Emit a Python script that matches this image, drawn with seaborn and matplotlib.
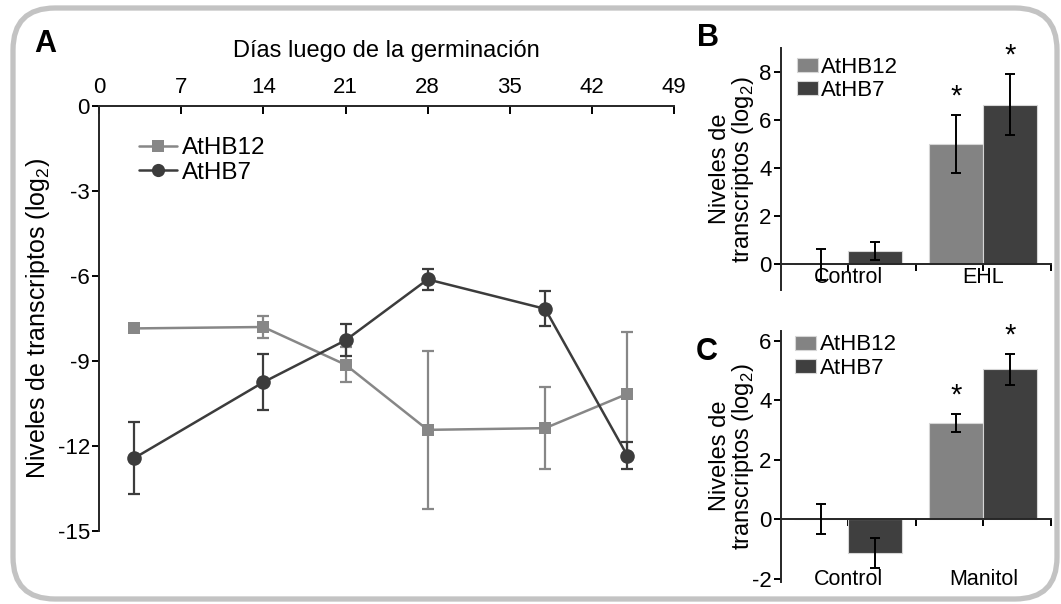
import numpy as np
import pandas as pd
import matplotlib
matplotlib.use("Agg")
import matplotlib.pyplot as plt
import seaborn as sns
from matplotlib.patches import FancyBboxPatch, Patch
from matplotlib.lines import Line2D

# ---- Panel A: expression after germination ----
genes = ["AtHB12", "AtHB7"]
dias = [3, 14, 21, 28, 38, 45]
nivel_hb12 = [-7.85, -7.80, -9.13, -11.43, -11.37, -10.16]
err_hb12 = [0.0, 0.38, 0.62, 2.80, 1.44, 2.18]
nivel_hb7 = [-12.43, -9.75, -8.27, -6.12, -7.16, -12.34]
err_hb7 = [1.26, 0.99, 0.56, 0.37, 0.62, 0.48]
ticks_dias = [0, 7, 14, 21, 28, 35, 42, 49]
ticks_nivel_a = [0, -3, -6, -9, -12, -15]

# ---- Panel B: high light (EHL) ----
trat_b = ["Control", "EHL"]
val_b_hb12 = [0.0, 5.02]
err_b_hb12 = [0.65, 1.20]
val_b_hb7 = [0.55, 6.65]
err_b_hb7 = [0.38, 1.27]
ticks_b = [0, 2, 4, 6, 8]

# ---- Panel C: mannitol ----
trat_c = ["Control", "Manitol"]
val_c_hb12 = [0.0, 3.24]
err_c_hb12 = [0.50, 0.31]
val_c_hb7 = [-1.13, 5.03]
err_c_hb7 = [0.50, 0.52]
ticks_c = [-2, 0, 2, 4, 6]

col_line = {"AtHB12": "#878787", "AtHB7": "#3c3c3c"}
col_bar = {"AtHB12": "#838383", "AtHB7": "#3f3f3f"}

sns.set_theme(style="ticks")
plt.rcParams["font.family"] = ["Liberation Sans", "DejaVu Sans"]
plt.rcParams["mathtext.fontset"] = "custom"
plt.rcParams["mathtext.rm"] = "Liberation Sans"
plt.rcParams["axes.linewidth"] = 1.4
plt.rcParams["text.color"] = "black"
plt.rcParams["axes.labelcolor"] = "black"
plt.rcParams["xtick.color"] = "black"
plt.rcParams["ytick.color"] = "black"

W, H = 1061, 604
fig = plt.figure(figsize=(W / 100, H / 100), dpi=100)
fig.patch.set_facecolor("white")


def axes_px(x0, y0, x1, y1):
    return fig.add_axes([x0 / W, 1 - y1 / H, (x1 - x0) / W, (y1 - y0) / H])


# rounded frame around the whole figure
frame = FancyBboxPatch((13 / 100, (H - 599) / 100), (1057 - 13) / 100, (599 - 8) / 100,
                       boxstyle="round,pad=0,rounding_size=0.42",
                       transform=fig.dpi_scale_trans, facecolor="none",
                       edgecolor="#c3c3c3", linewidth=3.8, zorder=0)
fig.patches.append(frame)

TICK_FS = 16

# ================= Panel A =================
ax = axes_px(98.9, 106, 674.3, 531)
df_a = pd.DataFrame({
    "dia": dias * 2,
    "nivel": nivel_hb12 + nivel_hb7,
    "gen": ["AtHB12"] * len(dias) + ["AtHB7"] * len(dias),
})
for g, vals, errs, mk, ms, z in [("AtHB12", nivel_hb12, err_hb12, "s", 9, 2),
                                 ("AtHB7", nivel_hb7, err_hb7, "o", 10.5, 3)]:
    ax.errorbar(dias, vals, yerr=errs, fmt="none", ecolor=col_line[g],
                elinewidth=1.6, capsize=4.5, capthick=1.6, zorder=z)
    sns.lineplot(data=df_a[df_a["gen"] == g], x="dia", y="nivel", color=col_line[g],
                 marker=mk, markersize=ms, markeredgewidth=0, linewidth=1.8,
                 errorbar=None, legend=False, ax=ax, zorder=z + 0.5)

ax.set_xlim(0, 49)
ax.set_ylim(-15, 0)
ax.set_xticks(ticks_dias)
ax.set_yticks(ticks_nivel_a)
ax.set_yticklabels([str(t) for t in ticks_nivel_a])
ax.xaxis.tick_top()
ax.xaxis.set_label_position("top")
for s in ["bottom", "right"]:
    ax.spines[s].set_visible(False)
ax.tick_params(axis="x", direction="in", length=6, width=1.4, pad=6, labelsize=TICK_FS)
ax.tick_params(axis="y", direction="out", length=5, width=1.4, pad=1.5, labelsize=TICK_FS)
ax.set_xlabel("Días luego de la germinación", fontsize=17, labelpad=14)
ax.set_ylabel("Niveles de transcriptos (log$_2$)", fontsize=18)
ax.yaxis.set_label_coords(-0.081, 0.5)
handles_a = [Line2D([], [], color=col_line["AtHB12"], marker="s", markersize=8,
                    markeredgewidth=0, linewidth=1.8),
             Line2D([], [], color=col_line["AtHB7"], marker="o", markersize=9.5,
                    markeredgewidth=0, linewidth=1.8)]
ax.legend(handles_a, genes, loc="upper left", bbox_to_anchor=(0.07, 0.927),
          frameon=False, fontsize=17.5, handlelength=1.55, handletextpad=0.2,
          labelspacing=0.12, borderpad=0, borderaxespad=0)


# ================= Panels B and C =================
def bar_panel(ax, trat, v12, e12, v7, e7, ylim, yticks, label_pad, leg_anchor):
    df = pd.DataFrame({
        "trat": trat * 2,
        "valor": v12 + v7,
        "gen": ["AtHB12"] * len(trat) + ["AtHB7"] * len(trat),
    })
    sns.barplot(data=df, x="trat", y="valor", hue="gen", hue_order=genes,
                palette=col_bar, errorbar=None, width=0.8, edgecolor="#d6d6d6",
                linewidth=0.8, legend=False, ax=ax, zorder=2)
    errs = {"AtHB12": e12, "AtHB7": e7}
    vals = {"AtHB12": v12, "AtHB7": v7}
    for cont, g in zip(ax.containers, genes):
        for bar, v, e, t in zip(cont, vals[g], errs[g], trat):
            xc = bar.get_x() + bar.get_width() / 2
            ax.errorbar([xc], [v], yerr=[e], fmt="none", ecolor="black",
                        elinewidth=1.4, capsize=3.5, capthick=1.4, zorder=4)
            if t != trat[0]:
                ax.annotate("*", (xc, v + e), xytext=(0, 3), textcoords="offset points",
                            ha="center", va="bottom", fontsize=21)
    ax.set_xlim(-0.5, 1.5)
    ax.set_ylim(*ylim)
    ax.set_yticks(yticks)
    ax.set_yticklabels([str(t) for t in yticks])
    ax.set_xticks([0, 0.5, 1, 1.5])
    ax.set_xticklabels([trat[0], "", trat[1], ""])
    ax.spines["bottom"].set_position(("data", 0))
    for s in ["top", "right"]:
        ax.spines[s].set_visible(False)
    ax.tick_params(axis="x", direction="out", length=5, width=1.4, pad=label_pad,
                   labelsize=15.5)
    ax.tick_params(axis="y", direction="out", length=5, width=1.4, pad=1.5,
                   labelsize=TICK_FS)
    ax.set_xlabel("")
    ax.set_ylabel("Niveles de\ntranscriptos (log$_2$)", fontsize=17, linespacing=0.95)
    ax.yaxis.set_label_coords(-0.09, 0.5)
    hs = [Patch(facecolor=col_bar[g], edgecolor="#d6d6d6", linewidth=0.8) for g in genes]
    ax.legend(hs, genes, loc="upper left", bbox_to_anchor=leg_anchor, frameon=False,
              fontsize=16, handlelength=0.95, handleheight=0.6,
              handletextpad=0.15, labelspacing=0.1, borderpad=0, borderaxespad=0)


ax_b = axes_px(780.7, 48.3, 1051, 290)
bar_panel(ax_b, trat_b, val_b_hb12, err_b_hb12, val_b_hb7, err_b_hb7,
          (-1.07, 9.0), ticks_b, -3, (0.06, 0.965))

ax_c = axes_px(780.7, 330.7, 1051, 581.7)
bar_panel(ax_c, trat_c, val_c_hb12, err_c_hb12, val_c_hb7, err_c_hb7,
          (-2.09, 6.33), ticks_c, 31, (0.053, 0.985))

# panel letters
for txt, (x, y) in {"A": (45, 44), "B": (708, 38), "C": (707, 352)}.items():
    fig.text(x / W, 1 - y / H, txt, fontsize=22, fontweight="bold",
             ha="center", va="center")

fig.savefig("out.png", dpi=100, facecolor="white")
